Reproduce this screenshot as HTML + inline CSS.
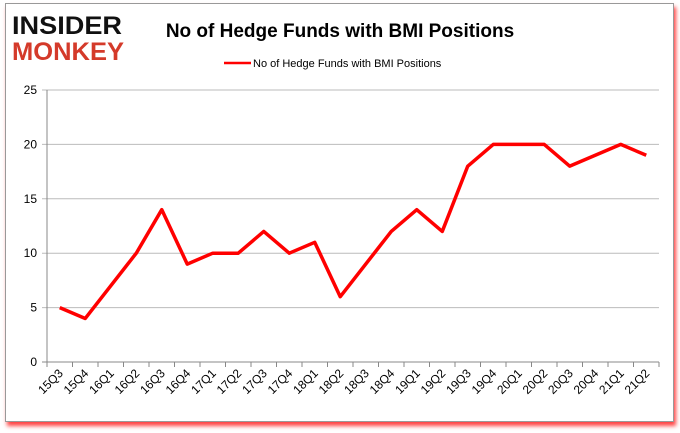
<!DOCTYPE html>
<html><head><meta charset="utf-8"><style>
body{margin:0;background:#fff;width:680px;height:433px;overflow:hidden;font-family:"Liberation Sans",sans-serif}
</style></head><body>
<div style="position:absolute;left:5px;top:3px;width:667px;height:417px;border:1px solid #999;box-shadow:2px 4px 4px #f44;background:#fff"></div>
<svg width="680" height="433" style="position:absolute;left:0;top:0">
<g font-family="Liberation Sans" font-weight="bold">
<text x="12" y="34" font-size="25" fill="#111" textLength="110" lengthAdjust="spacingAndGlyphs">INSIDER</text>
<text x="12" y="60" font-size="25" fill="#d43a2a" textLength="112" lengthAdjust="spacingAndGlyphs">MONKEY</text>
</g>
<text x="340" y="37" text-anchor="middle" font-size="19" font-weight="bold" fill="#000">No of Hedge Funds with BMI Positions</text>
<line x1="224" y1="63" x2="251" y2="63" stroke="red" stroke-width="2.5"/>
<text x="253" y="67" font-size="11" fill="#000">No of Hedge Funds with BMI Positions</text>
<g id="grid"></g><g id="axes"></g>
<path id="line" fill="none" stroke="red" stroke-width="3.5" stroke-linejoin="round"/>
</svg>
<script>
const categories=["15Q3","15Q4","16Q1","16Q2","16Q3","16Q4","17Q1","17Q2","17Q3","17Q4","18Q1","18Q2","18Q3","18Q4","19Q1","19Q2","19Q3","19Q4","20Q1","20Q2","20Q3","20Q4","21Q1","21Q2"];
const values=[5,4,7,10,14,9,10,10,12,10,11,6,9,12,14,12,18,20,20,20,18,19,20,19];
const yTicks=[0,5,10,15,20,25];
const L=47,R=659,T=90,B=362,ymax=25;
const step=(R-L)/categories.length;
const xs=i=>L+(i+0.5)*step;
const ys=v=>B-(v/ymax)*(B-T);
const ns="http://www.w3.org/2000/svg";
const grid=document.getElementById('grid'),axes=document.getElementById('axes');
function mk(tag,attrs,parent){const e=document.createElementNS(ns,tag);for(const k in attrs)e.setAttribute(k,attrs[k]);parent.appendChild(e);return e;}
yTicks.forEach(v=>{
 const g=mk('line',{x1:L-5,x2:R,y1:ys(v),y2:ys(v),stroke:v===0?'#888':'#bbb','stroke-width':1},grid);
 
 
 const t=mk('text',{x:L-10,y:ys(v)+4,'text-anchor':'end','font-size':12,fill:'#000'},axes);
 
 
 t.textContent=v;
});
const ya=mk('line',{x1:L,x2:L,y1:T,y2:B,stroke:'#888'},axes);


for(let i=0;i<=categories.length;i++){
 const tk=mk('line',{x1:L+i*step,x2:L+i*step,y1:B,y2:B+5,stroke:'#888'},axes);
 
 
}
categories.forEach((c,i)=>{
 const x=xs(i)+4,y=B+12;
 const t=mk('text',{x:x,y:y,'text-anchor':'end','font-size':12,fill:'#000',transform:`rotate(-45 ${x} ${y})`},axes);
 
 
 t.textContent=c;
});
document.getElementById('line').setAttribute('d',values.map((v,i)=>(i?'L':'M')+xs(i)+','+ys(v)).join(' '));
</script>
</body></html>
